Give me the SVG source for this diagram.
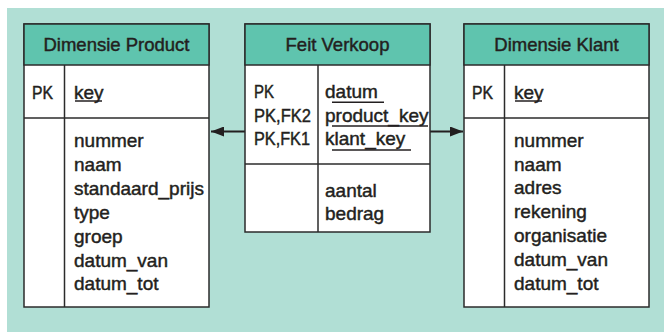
<svg xmlns="http://www.w3.org/2000/svg" width="664" height="332" viewBox="0 0 664 332">
<defs>
<style>
.bg{fill:#b1dfd5}
.box{fill:#fff;stroke:#2b2b2b;stroke-width:1.5}
.hdr{fill:#5fc4ae;stroke:#2b2b2b;stroke-width:1.5}
.ln{stroke:#2b2b2b;stroke-width:1.5;fill:none}
.t{font-family:"Liberation Sans",Arial,sans-serif;font-size:19px;fill:#231f20;stroke:#231f20;stroke-width:0.45}
.h{font-family:"Liberation Sans",Arial,sans-serif;font-size:18.5px;fill:#231f20;stroke:#231f20;stroke-width:0.45;text-anchor:middle}
.u{stroke:#231f20;stroke-width:1.5}
.con{stroke:#231f20;stroke-width:2;fill:none}
</style>
<marker id="ah" viewBox="0 0 13 10" refX="13" refY="5" markerWidth="13" markerHeight="10" markerUnits="userSpaceOnUse" orient="auto">
<path d="M0,0 L13,5 L0,10 Z" fill="#231f20"/>
</marker>
</defs>
<rect class="bg" x="7" y="8" width="657" height="324"/>
<g id="connectors">
<line class="con" x1="245" y1="131.5" x2="211" y2="131.5" marker-end="url(#ah)"/>
<line class="con" x1="430" y1="131.5" x2="463" y2="131.5" marker-end="url(#ah)"/>
</g>
<g id="dim-product">
<rect class="box" x="24" y="24" width="185" height="283"/>
<rect class="hdr" x="24" y="24" width="185" height="41"/>
<line class="ln" x1="24" y1="118" x2="209" y2="118"/>
<line class="ln" x1="64.5" y1="65" x2="64.5" y2="307"/>
<text class="h" x="116.5" y="50.5">Dimensie Product</text>
<text class="t" x="32" y="99" textLength="21" lengthAdjust="spacingAndGlyphs">PK</text>
<text class="t" x="74" y="99">key</text>
<line class="u" x1="75" y1="101" x2="102" y2="101"/>
<text class="t" x="74"><tspan x="74" y="147">nummer</tspan><tspan x="74" y="171">naam</tspan><tspan x="74" y="195">standaard_prijs</tspan><tspan x="74" y="219">type</tspan><tspan x="74" y="243">groep</tspan><tspan x="74" y="267">datum_van</tspan><tspan x="74" y="290">datum_tot</tspan></text>
</g>
<g id="feit-verkoop">
<rect class="box" x="245" y="24" width="185" height="208"/>
<rect class="hdr" x="245" y="24" width="185" height="41"/>
<line class="ln" x1="245" y1="164" x2="430" y2="164"/>
<line class="ln" x1="318" y1="65" x2="318" y2="232"/>
<text class="h" x="337.5" y="50.5">Feit Verkoop</text>
<text class="t" x="254" y="98" textLength="20" lengthAdjust="spacingAndGlyphs">PK</text>
<text class="t" x="254" y="121.5" textLength="57" lengthAdjust="spacingAndGlyphs">PK,FK2</text>
<text class="t" x="254" y="145" textLength="56" lengthAdjust="spacingAndGlyphs">PK,FK1</text>
<text class="t"><tspan x="325" y="98">datum</tspan><tspan x="325" y="121.5">product_key</tspan><tspan x="325" y="145">klant_key</tspan></text>
<line class="u" x1="332" y1="102.3" x2="384" y2="102.3"/>
<line class="u" x1="332" y1="126" x2="428" y2="126"/>
<line class="u" x1="332" y1="150" x2="411" y2="150"/>
<text class="t"><tspan x="325" y="196.5">aantal</tspan><tspan x="325" y="220">bedrag</tspan></text>
</g>
<g id="dim-klant">
<rect class="box" x="464" y="24" width="185" height="283"/>
<rect class="hdr" x="464" y="24" width="185" height="41"/>
<line class="ln" x1="464" y1="118" x2="649" y2="118"/>
<line class="ln" x1="504.5" y1="65" x2="504.5" y2="307"/>
<text class="h" x="556.5" y="50.5">Dimensie Klant</text>
<text class="t" x="472" y="99" textLength="21" lengthAdjust="spacingAndGlyphs">PK</text>
<text class="t" x="514" y="99">key</text>
<line class="u" x1="515" y1="101" x2="542" y2="101"/>
<text class="t"><tspan x="514" y="147">nummer</tspan><tspan x="514" y="171">naam</tspan><tspan x="514" y="194">adres</tspan><tspan x="514" y="218">rekening</tspan><tspan x="514" y="242">organisatie</tspan><tspan x="514" y="266">datum_van</tspan><tspan x="514" y="290">datum_tot</tspan></text>
</g>
</svg>
